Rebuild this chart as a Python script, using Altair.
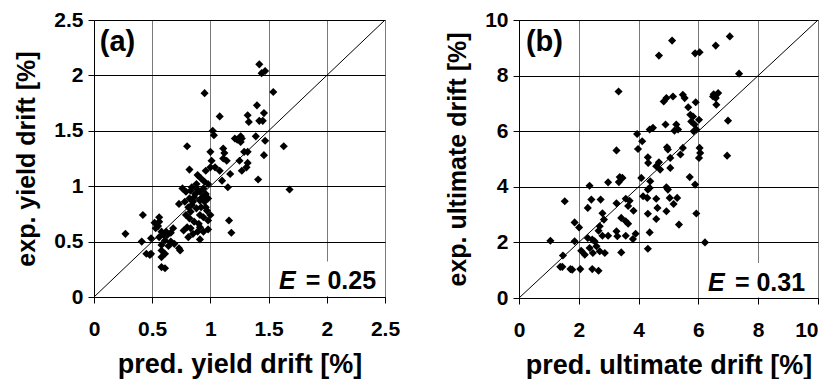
import altair as alt
import pandas as pd

# Panel (a): yield drift [%]
pred_yield = [1.42, 1.44, 1.47, 1.54, 0.95, 1.40, 1.08, 1.32, 1.33, 1.42, 1.45, 1.46, 1.02, 1.03, 1.39,
              1.47, 1.21, 1.23, 1.26, 1.27, 1.26, 0.80, 1.63, 1.00, 1.11, 1.12, 1.29, 1.32, 1.46, 1.11,
              1.14, 1.25, 1.32, 1.31, 1.01, 0.82, 0.96, 1.00, 1.04, 1.08, 1.17, 1.27, 1.10, 1.41, 1.15,
              1.68, 0.89, 0.92, 0.95, 0.98, 0.76, 0.79, 0.83, 0.88, 0.91, 0.94, 0.96, 0.86, 0.82, 0.78,
              0.73, 0.85, 0.91, 0.95, 0.98, 0.81, 0.88, 0.92, 0.96, 0.83, 0.79, 0.91, 1.00, 0.94, 0.82,
              0.86, 0.80, 0.83, 0.91, 0.89, 0.85, 0.81, 0.94, 0.98, 0.91, 0.98, 1.16, 1.18, 0.27, 0.42,
              0.41, 0.49, 0.45, 0.48, 0.49, 0.52, 0.56, 0.56, 0.53, 0.58, 0.60, 0.56, 0.61, 0.58, 0.62,
              0.63, 0.58, 0.61, 0.58, 0.58, 0.61, 0.66, 0.68, 0.66, 0.69, 0.73, 0.74, 0.87, 0.93, 0.84,
              0.90, 0.77, 0.55, 0.64, 0.88, 0.84, 0.97]
exp_yield = [2.10, 2.02, 2.04, 1.85, 1.84, 1.73, 1.63, 1.64, 1.58, 1.59, 1.59, 1.66, 1.50, 1.46, 1.45,
             1.41, 1.43, 1.42, 1.45, 1.43, 1.40, 1.36, 1.36, 1.31, 1.34, 1.30, 1.31, 1.31, 1.28, 1.25,
             1.23, 1.23, 1.21, 1.17, 1.23, 1.15, 1.14, 1.17, 1.17, 1.14, 1.11, 1.14, 1.05, 1.06, 0.99,
             0.97, 1.10, 1.07, 1.04, 1.02, 0.98, 0.95, 0.96, 0.98, 0.95, 0.98, 0.93, 0.90, 0.89, 0.86,
             0.84, 0.86, 0.87, 0.86, 0.89, 0.81, 0.80, 0.81, 0.81, 0.77, 0.74, 0.74, 0.74, 0.72, 0.71,
             0.68, 0.63, 0.62, 0.63, 0.59, 0.57, 0.54, 0.59, 0.61, 0.52, 0.69, 0.69, 0.58, 0.57, 0.74,
             0.50, 0.53, 0.39, 0.38, 0.39, 0.67, 0.68, 0.72, 0.62, 0.59, 0.56, 0.54, 0.51, 0.47, 0.59,
             0.56, 0.42, 0.39, 0.36, 0.27, 0.26, 0.58, 0.62, 0.50, 0.48, 0.44, 0.42, 0.93, 0.90, 0.83,
             0.66, 0.60, 0.64, 0.46, 1.02, 0.99, 0.78]

# Panel (b): ultimate drift [%]
pred_ult = [7.05, 6.58, 5.12, 4.68, 5.89, 6.04, 7.36, 3.33, 6.51, 6.66, 6.58, 6.49, 6.60, 5.48, 5.54,
            4.93, 4.84, 5.15, 5.91, 5.66, 5.73, 5.82, 5.76, 5.87, 5.93, 5.84, 6.02, 6.99, 4.90, 5.26,
            5.32, 5.20, 4.48, 4.37, 3.95, 4.12, 3.98, 4.95, 4.98, 5.48, 5.40, 6.04, 6.06, 6.02, 6.96,
            3.26, 4.31, 4.32, 4.68, 4.59, 4.72, 5.06, 5.06, 5.71, 5.89, 3.37, 3.46, 3.34, 2.98, 2.36,
            4.09, 4.39, 4.37, 4.31, 4.93, 4.98, 4.15, 4.29, 4.59, 5.04, 5.29, 5.17, 4.63, 4.93, 5.93,
            4.31, 1.53, 2.30, 2.42, 2.73, 3.26, 3.57, 3.70, 3.65, 3.83, 2.79, 2.84, 3.42, 3.57, 3.65,
            5.35, 4.59, 4.37, 2.70, 2.66, 1.86, 2.01, 2.79, 2.98, 3.26, 3.29, 3.57, 3.81, 3.90, 1.05,
            1.86, 2.30, 2.45, 2.53, 2.59, 2.08, 2.20, 2.36, 2.47, 2.70, 2.87, 3.42, 4.31, 6.22, 1.47,
            1.38, 1.45, 1.72, 1.78, 2.05, 2.45, 2.66]
exp_ult = [9.41, 9.08, 9.26, 8.72, 8.80, 8.84, 8.07, 7.43, 7.33, 7.37, 7.19, 7.25, 6.95, 7.31, 7.19,
           7.19, 7.07, 7.25, 7.04, 6.86, 6.59, 6.53, 6.35, 6.24, 6.06, 6.00, 6.41, 6.38, 6.24, 6.24,
           6.06, 6.02, 6.12, 6.06, 5.90, 5.64, 5.36, 5.42, 5.34, 5.40, 5.16, 5.40, 5.22, 5.04, 5.12,
           5.31, 5.06, 4.86, 4.88, 4.74, 4.62, 5.04, 4.68, 4.35, 4.08, 4.35, 4.32, 4.17, 4.16, 4.04,
           4.32, 4.20, 3.96, 3.90, 3.98, 3.90, 3.66, 3.60, 3.57, 3.60, 3.60, 3.38, 3.24, 3.12, 3.04,
           3.03, 3.48, 3.24, 3.54, 3.54, 3.41, 3.57, 3.50, 3.31, 3.14, 3.05, 2.82, 2.88, 2.76, 2.67,
           2.64, 2.84, 2.36, 2.58, 2.42, 2.72, 2.54, 2.24, 2.24, 2.40, 2.22, 2.24, 2.12, 2.31, 2.06,
           2.04, 2.16, 2.10, 2.04, 1.86, 1.70, 1.56, 1.80, 1.62, 1.68, 1.62, 1.64, 1.77, 2.00, 1.53,
           1.12, 1.12, 1.04, 1.02, 1.04, 1.04, 0.98]

# Tick values and annotations
ticks_a = [0, 0.5, 1, 1.5, 2, 2.5]
ticks_b = [0, 2, 4, 6, 8, 10]
panel_labels = ["(a)", "(b)"]
e_values = ["= 0.25", "= 0.31"]

FONT = "Liberation Sans"


def panel(px, py, ticks, xtitle, ytitle, label, label_pos, e_text, e_pos, eq_pos, box):
    lo, hi = ticks[0], ticks[-1]
    pts = pd.DataFrame({"x": px, "y": py})
    xs = alt.Scale(domain=[lo, hi], nice=False, zero=False)
    ys = alt.Scale(domain=[lo, hi], nice=False, zero=False)
    xax = alt.Axis(values=ticks, format=".1~f", title=xtitle, gridColor="#7a7a7a",
                   labelAlign={"condition": {"test": f"datum.value == {hi} && {hi} == 10",
                                             "value": "right"}, "value": "center"})
    yax = alt.Axis(values=ticks, format=".1~f", title=ytitle, gridColor="#000000")

    points = alt.Chart(pts).mark_point(shape="diamond", filled=True, color="black",
                                        size=66, opacity=1).encode(
        x=alt.X("x:Q", scale=xs, axis=xax),
        y=alt.Y("y:Q", scale=ys, axis=yax),
    )
    diag = alt.Chart(pd.DataFrame({"x": [lo, hi], "y": [lo, hi]})).mark_line(
        color="black", strokeWidth=1).encode(x=alt.X("x:Q", scale=xs), y=alt.Y("y:Q", scale=ys))
    rect = alt.Chart(pd.DataFrame({"x": [box[0]], "x2": [box[1]], "y": [box[2]], "y2": [box[3]]})).mark_rect(
        color="white").encode(x=alt.X("x:Q", scale=xs), x2="x2", y=alt.Y("y:Q", scale=ys), y2="y2")
    lab = alt.Chart(pd.DataFrame({"x": [label_pos[0]], "y": [label_pos[1]], "t": [label]})).mark_text(
        align="left", baseline="middle", font=FONT, fontWeight="bold", fontSize=29, color="black"
    ).encode(x=alt.X("x:Q", scale=xs), y=alt.Y("y:Q", scale=ys), text="t:N")
    e_mark = alt.Chart(pd.DataFrame({"x": [e_pos[0]], "y": [e_pos[1]], "t": ["E"]})).mark_text(
        align="left", baseline="middle", font=FONT, fontWeight="bold", fontStyle="italic",
        fontSize=25, color="black"
    ).encode(x=alt.X("x:Q", scale=xs), y=alt.Y("y:Q", scale=ys), text="t:N")
    eq_mark = alt.Chart(pd.DataFrame({"x": [eq_pos[0]], "y": [eq_pos[1]], "t": [e_text]})).mark_text(
        align="left", baseline="middle", font=FONT, fontWeight="bold", fontSize=25, color="black"
    ).encode(x=alt.X("x:Q", scale=xs), y=alt.Y("y:Q", scale=ys), text="t:N")
    return alt.layer(rect, diag, points, lab, e_mark, eq_mark)


pa = panel(pred_yield, exp_yield, ticks_a, "pred. yield drift [%]", "exp. yield drift [%]",
           panel_labels[0], (0.05, 2.30), e_values[0], (1.59, 0.145), (1.82, 0.145),
           (1.55, 2.47, 0.01, 0.32)).properties(width=291, height=277)
pb = panel(pred_ult, exp_ult, ticks_b, "pred. ultimate drift [%]", "exp. ultimate drift [%]",
           panel_labels[1], (0.23, 9.2), e_values[1], (6.32, 0.55), (7.22, 0.55),
           (6.15, 9.92, 0.03, 1.26)).properties(width=299, height=278)

chart = alt.hconcat(pa, pb, spacing=44).properties(
    padding={"left": 6, "top": 0, "right": 0, "bottom": 0}
).configure_view(
    stroke="#7a7a7a", strokeWidth=1
).configure_axis(
    labelFont=FONT, titleFont=FONT, labelFontWeight="bold", titleFontWeight="bold",
    labelFontSize=21, labelColor="black", titleColor="black",
    domainColor="black", domainWidth=1, tickColor="black", tickSize=6, tickWidth=1,
    gridWidth=1, gridOpacity=1
).configure_axisX(
    labelPadding=15, titlePadding=12, titleFontSize=27
).configure_axisY(
    labelPadding=5, titlePadding=14, titleFontSize=25
)

chart.save("out.html", embed_options={"renderer": "svg", "actions": False})
